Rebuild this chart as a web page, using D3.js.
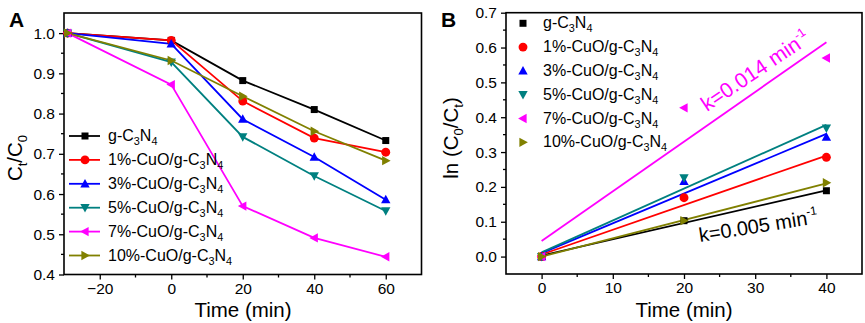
<!DOCTYPE html>
<html><head><meta charset="utf-8">
<script src="https://cdn.jsdelivr.net/npm/d3@7"></script>
<style>body{margin:0;background:#fff}svg{display:block;font-family:"Liberation Sans",Arial,sans-serif}</style>
</head><body><svg id="c" width="865" height="323"></svg>
<script>
// ---------- data ----------
const seriesNames = ["g-C3N4","1%-CuO/g-C3N4","3%-CuO/g-C3N4","5%-CuO/g-C3N4","7%-CuO/g-C3N4","10%-CuO/g-C3N4"];
const seriesColors = ["#000000","#ff0000","#0000ff","#008080","#ff00ff","#808000"];
const seriesShapes = ["square","circle","up","down","left","right"];
// Panel A: Ct/C0 vs time
const timeA = [-29, 0, 20, 40, 60];
const gC3N4_A  = [1.0, 0.982, 0.882, 0.810, 0.733];
const cuo1_A   = [1.0, 0.982, 0.831, 0.739, 0.704];
const cuo3_A   = [1.0, 0.973, 0.786, 0.692, 0.586];
const cuo5_A   = [1.0, 0.928, 0.742, 0.645, 0.558];
const cuo7_A   = [1.0, 0.872, 0.570, 0.491, 0.444];
const cuo10_A  = [1.0, 0.932, 0.843, 0.756, 0.683];
// Panel B: ln(C0/Ct) vs time
const timeB = [0, 20, 40];
const gC3N4_B  = [0, 0.103, 0.189];
const cuo1_B   = [0, 0.169, 0.285];
const cuo3_B   = [0, 0.216, 0.343];
const cuo5_B   = [0, 0.226, 0.369];
const cuo7_B   = [0, 0.427, 0.570];
const cuo10_B  = [0, 0.103, 0.212];
// Linear fit lines (value at t=0 and t=40)
const fitStart = [0.003, 0.006, 0.010, 0.012, 0.045, 0.000];
const fitEnd   = [0.190, 0.290, 0.352, 0.378, 0.615, 0.210];
const ticksAx = [-20, 0, 20, 40, 60];
const ticksAy = [0.4, 0.5, 0.6, 0.7, 0.8, 0.9, 1.0];
const ticksBx = [0, 10, 20, 30, 40];
const ticksBy = [0.0, 0.1, 0.2, 0.3, 0.4, 0.5, 0.6, 0.7];

const dataA = [gC3N4_A, cuo1_A, cuo3_A, cuo5_A, cuo7_A, cuo10_A];
const dataB = [gC3N4_B, cuo1_B, cuo3_B, cuo5_B, cuo7_B, cuo10_B];

const svg = d3.select("#c");

function markerPath(shape, s) {
  const h = s / 2;
  switch (shape) {
    case "square": return `M${-h},${-h}H${h}V${h}H${-h}Z`;
    case "circle": return d3.symbol(d3.symbolCircle, Math.PI * h * h * 1.1)();
    case "up": return `M0,${-h*1.15}L${h*1.1},${h*0.85}L${-h*1.1},${h*0.85}Z`;
    case "down": return `M0,${h*1.15}L${h*1.1},${-h*0.85}L${-h*1.1},${-h*0.85}Z`;
    case "left": return `M${-h*1.15},0L${h*0.85},${-h*1.1}L${h*0.85},${h*1.1}Z`;
    case "right": return `M${h*1.15},0L${-h*0.85},${-h*1.1}L${-h*0.85},${h*1.1}Z`;
  }
}

function addChemText(sel, name, fs) {
  const parts = name.split(/(C3N4)/);
  parts.forEach(p => {
    if (p === "C3N4") {
      sel.append("tspan").text("C");
      sel.append("tspan").attr("dy", 4).attr("font-size", fs * 0.68).text("3");
      sel.append("tspan").attr("dy", -4).text("N");
      sel.append("tspan").attr("dy", 4).attr("font-size", fs * 0.68).text("4");
      sel.append("tspan").attr("dy", -4).text("");
    } else if (p) sel.append("tspan").text(p);
  });
}

function frame(g, x, y, xt, yt, xminor, yminor) {
  const [x0, x1] = x.range(), [y0, y1] = y.range();
  const xa = g.append("g").attr("transform", `translate(0,${y0})`)
    .call(d3.axisBottom(x).tickValues(xt).tickSize(5).tickPadding(3).tickFormat(d3.format("d")));
  xa.append("g").selectAll("line").data(xminor).join("line")
    .attr("x1", d => x(d)).attr("x2", d => x(d)).attr("y1", 0).attr("y2", 3).attr("stroke", "#000").attr("stroke-width", 1.3);
  const ya = g.append("g").attr("transform", `translate(${x0},0)`)
    .call(d3.axisLeft(y).tickValues(yt).tickSize(5).tickPadding(4).tickFormat(d3.format(".1f")));
  ya.append("g").selectAll("line").data(yminor).join("line")
    .attr("y1", d => y(d)).attr("y2", d => y(d)).attr("x1", 0).attr("x2", -3).attr("stroke", "#000").attr("stroke-width", 1.3);
  [xa, ya].forEach(a => {
    a.select(".domain").remove();
    a.selectAll(".tick line").attr("stroke-width", 1.3);
    a.selectAll("text").attr("font-size", 15.5).attr("fill", "#000").attr("font-family", "Liberation Sans, Arial, sans-serif");
  });
  g.append("rect").attr("x", x0).attr("y", y1).attr("width", x1 - x0).attr("height", y0 - y1)
    .attr("fill", "none").attr("stroke", "#000").attr("stroke-width", 1.6);
}

// ---------- Panel A ----------
const xA = d3.scaleLinear().domain([-30, 70]).range([64, 421.5]);
const yA = d3.scaleLinear().domain([0.4, 1.05]).range([274.5, 13]);
const gA = svg.append("g");
frame(gA, xA, yA, ticksAx, ticksAy, [-10, 10, 30, 50], [0.45, 0.55, 0.65, 0.75, 0.85, 0.95]);

const lineA = d3.line().x((d, i) => xA(timeA[i])).y(d => yA(d));
dataA.forEach((vals, k) => {
  gA.append("path").attr("d", lineA(vals)).attr("fill", "none").attr("stroke", seriesColors[k]).attr("stroke-width", 1.8);
});
dataA.forEach((vals, k) => {
  gA.selectAll(null).data(vals).join("path")
    .attr("transform", (d, i) => `translate(${xA(timeA[i])},${yA(d)})`)
    .attr("d", markerPath(seriesShapes[k], seriesShapes[k] === "square" ? 7 : 8.5)).attr("fill", seriesColors[k]);
});

seriesNames.forEach((nm, k) => {
  const ly = 136 + k * 23.9;
  gA.append("line").attr("x1", 69).attr("x2", 100).attr("y1", ly).attr("y2", ly).attr("stroke", seriesColors[k]).attr("stroke-width", 1.8);
  gA.append("path").attr("transform", `translate(85,${ly})`).attr("d", markerPath(seriesShapes[k], seriesShapes[k] === "square" ? 7 : 8.5)).attr("fill", seriesColors[k]);
  const t = gA.append("text").attr("x", 108).attr("y", ly + 5).attr("font-size", 16).attr("fill", "#000");
  addChemText(t, nm, 16);
});

gA.append("text").attr("x", 243).attr("y", 317).attr("text-anchor", "middle").attr("font-size", 20.5).text("Time (min)");
const ylabA = gA.append("text").attr("transform", "translate(22,158) rotate(-90)").attr("text-anchor", "middle").attr("font-size", 20.5);
ylabA.append("tspan").text("C");
ylabA.append("tspan").attr("dy", 5).attr("font-size", 13).text("t");
ylabA.append("tspan").attr("dy", -5).text("/C");
ylabA.append("tspan").attr("dy", 5).attr("font-size", 13).text("0");
gA.append("text").attr("x", 9).attr("y", 27).attr("font-size", 21).attr("font-weight", "bold").text("A");

// ---------- Panel B ----------
const xB = d3.scaleLinear().domain([-5, 45]).range([506, 862]);
const yB = d3.scaleLinear().domain([-0.05, 0.7]).range([274, 12.7]);
const gB = svg.append("g");
frame(gB, xB, yB, ticksBx, ticksBy, [5, 15, 25, 35], [0.05, 0.15, 0.25, 0.35, 0.45, 0.55, 0.65]);

dataB.forEach((vals, k) => {
  gB.append("line").attr("x1", xB(0)).attr("x2", xB(40)).attr("y1", yB(fitStart[k])).attr("y2", yB(fitEnd[k]))
    .attr("stroke", seriesColors[k]).attr("stroke-width", 1.8);
});
dataB.forEach((vals, k) => {
  gB.selectAll(null).data(vals).join("path")
    .attr("transform", (d, i) => `translate(${xB(timeB[i])},${yB(d)})`)
    .attr("d", markerPath(seriesShapes[k], seriesShapes[k] === "square" ? 7 : 8.5)).attr("fill", seriesColors[k]);
});

seriesNames.forEach((nm, k) => {
  const ly = 23.3 + k * 23.8;
  gB.append("path").attr("transform", `translate(523,${ly})`).attr("d", markerPath(seriesShapes[k], seriesShapes[k] === "square" ? 7 : 8.5)).attr("fill", seriesColors[k]);
  const t = gB.append("text").attr("x", 543).attr("y", ly + 5).attr("font-size", 16).attr("fill", "#000");
  addChemText(t, nm, 16);
});

gB.append("text").attr("x", 684).attr("y", 317).attr("text-anchor", "middle").attr("font-size", 20.5).text("Time (min)");
const ylabB = gB.append("text").attr("transform", "translate(458,138) rotate(-90)").attr("text-anchor", "middle").attr("font-size", 20.5);
ylabB.append("tspan").text("ln (C");
ylabB.append("tspan").attr("dy", 5).attr("font-size", 13).text("0");
ylabB.append("tspan").attr("dy", -5).text("/C");
ylabB.append("tspan").attr("dy", 5).attr("font-size", 13).text("t");
ylabB.append("tspan").attr("dy", -5).text(")");
gB.append("text").attr("x", 441).attr("y", 27).attr("font-size", 21).attr("font-weight", "bold").text("B");

function kLabel(g, x, y, ang, color, txt, fs) {
  const t = g.append("text").attr("transform", `translate(${x},${y}) rotate(${ang})`).attr("font-size", fs).attr("fill", color);
  t.append("tspan").text(txt);
  t.append("tspan").attr("dy", -9).attr("font-size", fs * 0.6).text("-1");
}
kLabel(gB, 707, 112, -34, "#ff00ff", "k=0.014 min", 21);
kLabel(gB, 700, 242, -9, "#000", "k=0.005 min", 20);
</script></body></html>
